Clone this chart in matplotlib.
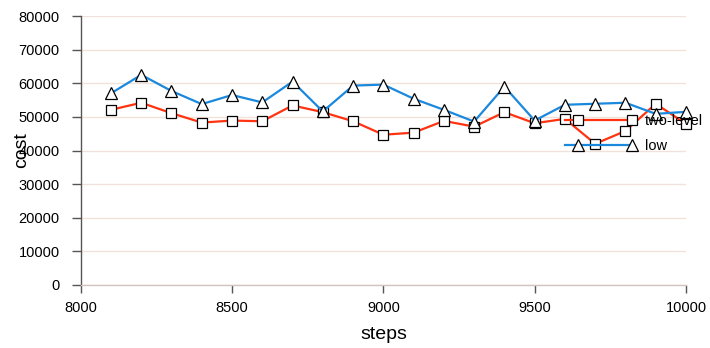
import matplotlib
matplotlib.use("Agg")
import matplotlib.pyplot as plt
import numpy as np
from matplotlib.legend_handler import HandlerLine2DCompound

steps = [8100, 8200, 8300, 8400, 8500, 8600, 8700, 8800, 8900, 9000,
         9100, 9200, 9300, 9400, 9500, 9600, 9700, 9800, 9900, 10000]
two_level = [52100, 54200, 51100, 48300, 48900, 48700, 53400, 51400, 48700, 44700,
             45300, 48800, 47100, 51400, 48100, 49400, 42000, 45800, 53900, 47900]
low = [57000, 62500, 57700, 53800, 56500, 54300, 60500, 51600, 59300, 59600,
       55400, 52100, 48600, 59000, 48900, 53600, 53900, 54200, 50900, 51500]

x_ticks = [8000, 8500, 9000, 9500, 10000]
y_ticks = [0, 10000, 20000, 30000, 40000, 50000, 60000, 70000, 80000]


class OffsetHandler(HandlerLine2DCompound):
    def get_xdata(self, legend, xdescent, ydescent, width, height, fontsize):
        xdata = np.array([-xdescent, -xdescent + width])
        xm = np.array([-xdescent + 0.2 * width, -xdescent + width])
        return xdata, xm


plt.rcParams['font.family'] = ['Liberation Sans', 'DejaVu Sans']

fig = plt.figure(figsize=(7.1, 3.48), dpi=100)
ax = fig.add_axes([80.7 / 710, 1 - 285 / 348, (686 - 80.7) / 710, (285 - 16) / 348])

ax.plot(steps, two_level, color='#ff3311', lw=1.6, marker='s', ms=7.5,
        mfc='white', mec='black', mew=0.9, label='two-level', zorder=3, clip_on=False)
ax.plot(steps, low, color='#1a88dd', lw=1.6, marker='^', ms=9,
        mfc='white', mec='black', mew=0.9, label='low', zorder=4, clip_on=False)

ax.set_xlim(8000, 10000)
ax.set_ylim(0, 80000)
ax.set_xticks(x_ticks)
ax.set_yticks(y_ticks)
ax.set_xticklabels([str(v) for v in x_ticks], fontsize=10.5)
ax.set_yticklabels([str(v) for v in y_ticks], fontsize=10.5)

ax.grid(axis='y', color='#f0e2da', lw=1.0)
ax.set_axisbelow(True)
for s in ['top', 'right']:
    ax.spines[s].set_visible(False)
ax.spines['bottom'].set_color('#cfc4c2')
ax.spines['bottom'].set_linewidth(1.0)
ax.spines['left'].set_color('#555555')
ax.spines['left'].set_linewidth(1.0)
ax.spines['left'].set_bounds(0, 80000)
ax.tick_params(axis='y', length=6.5, width=1, color='#555555', pad=8.5)
ax.tick_params(axis='x', length=6, width=1, color='#555555', pad=5.5)

ax.set_xlabel('steps', fontsize=14, labelpad=8)
ax.set_ylabel('cost', fontsize=14)
ax.yaxis.set_label_coords(-0.083, 0.5)

leg = ax.legend(loc='upper left', bbox_to_anchor=(565 / 710, 1 - 114 / 348),
                bbox_transform=fig.transFigure, frameon=False, fontsize=10.5,
                handlelength=4.6, handletextpad=0.9, borderpad=0, borderaxespad=0,
                labelspacing=0.75, numpoints=2,
                handler_map={plt.Line2D: OffsetHandler()})
leg.set_zorder(10)

fig.savefig('out.png', dpi=100)
